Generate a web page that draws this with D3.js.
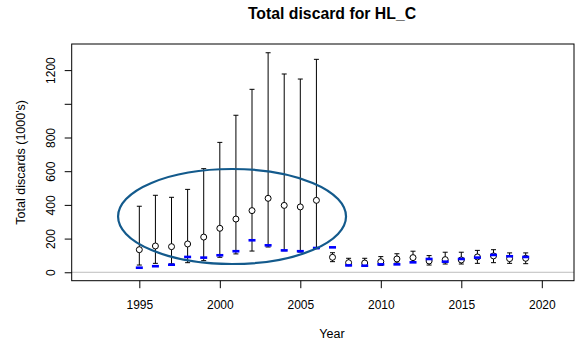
<!DOCTYPE html>
<html>
<head>
<meta charset="utf-8">
<script src="https://cdn.jsdelivr.net/npm/d3@7/dist/d3.min.js"></script>
<style>
  html, body { margin: 0; padding: 0; background: #fff; }
  svg { display: block; }
  text { font-family: "Liberation Sans", Arial, Helvetica, sans-serif; fill: #000; }
</style>
</head>
<body>
<svg id="chart" width="586" height="343"></svg>
<script>
// Discard estimates by year (thousands)
const years    = [1995,1996,1997,1998,1999,2000,2001,2002,2003,2004,2005,2006,2007,2008,2009,2010,2011,2012,2013,2014,2015,2016,2017,2018,2019];
const estimate = [134,156,152,168,209,261,316,366,439,397,388,427,89,57,55,63,79,87,67,75,73,91,97,81,83];
const upper    = [392,457,445,492,615,771,932,1086,1303,1177,1147,1264,116,83,83,93,110,125,99,119,119,130,134,115,115];
const lower    = [43,53,50,57,69,89,109,126,150,128,120,140,63,39,37,41,55,63,43,49,49,53,57,53,51];
const observed = [27,36,45,91,87,101,125,190,160,130,125,144,148,41,39,47,47,59,79,63,79,87,103,95,91];

const yTicks = [0,200,400,600,800,1000,1200];
const xTicks = [1995,2000,2005,2010,2015,2020];

// Highlighted period (centre year, centre value, half-width in years, half-height in value)
const highlight = { cx: 2000.76, cy: 331, rx: 7.08, ry: 282 };

const svg = d3.select("#chart");
const plotLeft = 71.7, plotRight = 574, plotTop = 44, plotBottom = 280.7;

const x = d3.scaleLinear().domain([1990.8, 2022.0]).range([plotLeft, plotRight]);
const y = d3.scaleLinear().domain([-50, 1355]).range([plotBottom, plotTop]);

svg.append("rect").attr("width", 586).attr("height", 343).attr("fill", "#fff");

// zero reference line
svg.append("line")
  .attr("x1", plotLeft).attr("x2", plotRight)
  .attr("y1", y(0)).attr("y2", y(0))
  .attr("stroke", "#bdbdbd").attr("stroke-width", 1);

// y axis
const yAxis = svg.append("g")
  .attr("transform", `translate(${plotLeft},0)`)
  .call(d3.axisLeft(y).tickValues(yTicks).tickSize(7).tickPadding(0)
        .tickFormat(d => d === 1000 ? "" : d));
yAxis.select(".domain").remove();
yAxis.selectAll(".tick line").attr("stroke", "#000");
yAxis.selectAll(".tick text")
  .attr("x", null).attr("dy", null)
  .attr("text-anchor", "middle")
  .attr("font-size", 12)
  .attr("transform", "translate(-16.7,0) rotate(-90)");

// x axis
const xAxis = svg.append("g")
  .attr("transform", `translate(0,${plotBottom})`)
  .call(d3.axisBottom(x).tickValues(xTicks).tickSize(7.5).tickPadding(0)
        .tickFormat(d3.format("d")));
xAxis.select(".domain").remove();
xAxis.selectAll(".tick line").attr("stroke", "#000");
xAxis.selectAll(".tick text")
  .attr("y", 28.6).attr("dy", null)
  .attr("font-size", 12);

// plot frame
svg.append("rect")
  .attr("x", plotLeft).attr("y", plotTop)
  .attr("width", plotRight - plotLeft).attr("height", plotBottom - plotTop)
  .attr("fill", "none").attr("stroke", "#000").attr("stroke-width", 1);

const data = years.map((yr, i) => ({
  year: yr, est: estimate[i], hi: upper[i], lo: lower[i], obs: observed[i]
}));

// error bars
const bars = svg.append("g").attr("stroke", "#000").attr("stroke-width", 1);
data.forEach(d => {
  const cx = x(d.year);
  bars.append("line").attr("x1", cx).attr("x2", cx).attr("y1", y(d.lo)).attr("y2", y(d.hi));
  bars.append("line").attr("x1", cx - 2.5).attr("x2", cx + 2.5).attr("y1", y(d.hi)).attr("y2", y(d.hi));
  bars.append("line").attr("x1", cx - 2.5).attr("x2", cx + 2.5).attr("y1", y(d.lo)).attr("y2", y(d.lo));
});

// point estimates
svg.append("g").selectAll("circle").data(data).join("circle")
  .attr("cx", d => x(d.year)).attr("cy", d => y(d.est)).attr("r", 3)
  .attr("fill", "#fff").attr("stroke", "#000").attr("stroke-width", 1);

// observed discards
svg.append("g").selectAll("rect").data(data).join("rect")
  .attr("x", d => x(d.year) - 3.5).attr("y", d => y(d.obs) - 1.3)
  .attr("width", 7).attr("height", 2.6)
  .attr("fill", "#0000ff");

// highlight ellipse
svg.append("ellipse")
  .attr("cx", x(highlight.cx)).attr("cy", y(highlight.cy))
  .attr("rx", x(highlight.cx + highlight.rx) - x(highlight.cx))
  .attr("ry", y(highlight.cy - highlight.ry) - y(highlight.cy))
  .attr("fill", "none").attr("stroke", "#135a8c").attr("stroke-width", 2.2);

// titles
svg.append("text").attr("x", 332).attr("y", 19)
  .attr("text-anchor", "middle").attr("font-size", 15.8).attr("font-weight", "bold")
  .text("Total discard for HL_C");

svg.append("text").attr("x", 332).attr("y", 338)
  .attr("text-anchor", "middle").attr("font-size", 12.5)
  .text("Year");

svg.append("text")
  .attr("transform", `translate(25,${(plotTop + plotBottom) / 2}) rotate(-90)`)
  .attr("text-anchor", "middle").attr("font-size", 12.5)
  .text("Total discards (1000's)");
</script>
</body>
</html>
